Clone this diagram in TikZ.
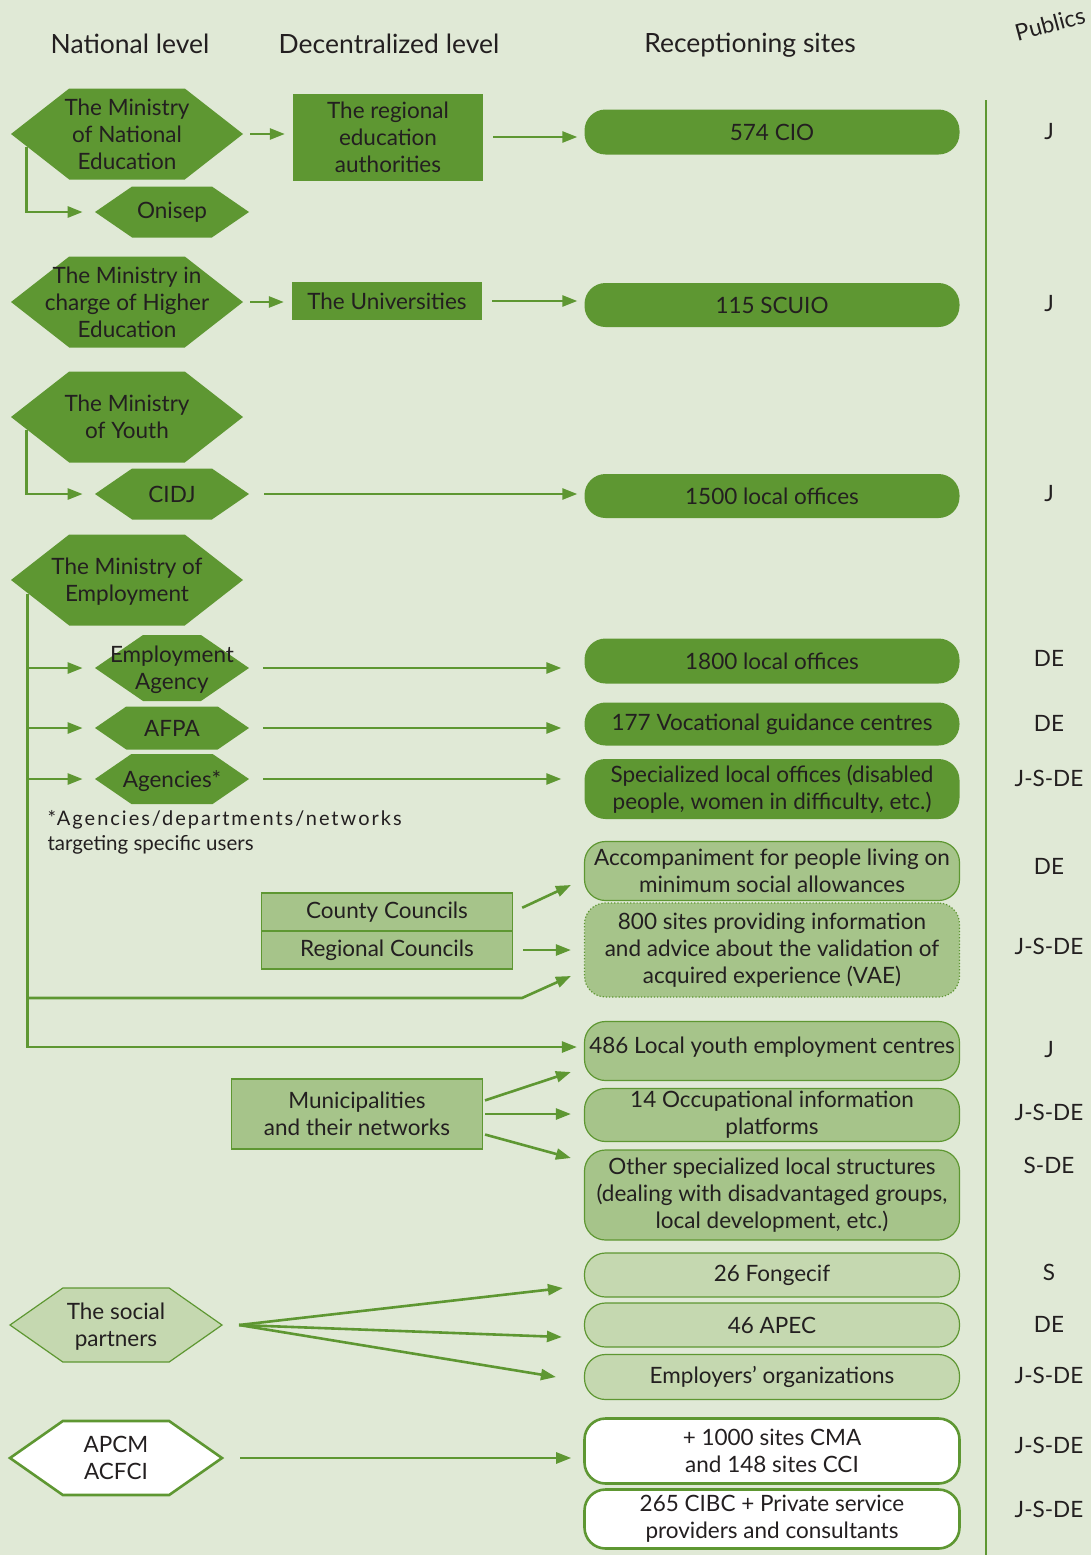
\documentclass[tikz,border=0pt]{standalone}
\usepackage{fontspec}
\setmainfont{Lato}
\usetikzlibrary{shapes.symbols,arrows.meta}
\definecolor{bggreen}{RGB}{224,233,214}
\definecolor{dkgreen}{RGB}{94,151,50}
\definecolor{mdgreen}{RGB}{166,196,138}
\definecolor{ltgreen}{RGB}{197,216,176}
\definecolor{inkgray}{RGB}{35,31,32}
% text that may run over the pointed ends of a hexagon
\newcommand{\hexlines}[1]{\raisebox{-3pt}[\height][\depth]{\makebox[40pt]{\begin{tabular}{@{}c@{}}#1\end{tabular}}}}
\begin{document}
\begin{tikzpicture}[x=1pt, y=-1pt,
        every node/.style={text=inkgray, font=\fontsize{22.5}{27}\selectfont, align=center},
        head/.style={font=\fontsize{26.5}{30}\selectfont},
        hexa/.style={signal, signal to=east and west, signal pointer angle=76, fill=dkgreen,
            inner sep=0pt, minimum width=232pt, minimum height=91pt},
        hexs/.style={hexa, signal pointer angle=69, minimum width=154pt, minimum height=51pt},
        site/.style={rounded corners=21pt, minimum width=375pt, minimum height=45pt, inner sep=1pt},
        darksite/.style={site, fill=dkgreen},
        midsite/.style={site, fill=mdgreen, draw=dkgreen, line width=1.2pt},
        litesite/.style={site, fill=ltgreen, draw=dkgreen, line width=1.2pt},
        whitesite/.style={site, fill=white, draw=dkgreen, line width=2.6pt},
        arr/.style={draw=dkgreen, line width=2.6pt, -{Triangle[length=15pt,width=11pt]}}]

        % Background and frame
        \fill[bggreen] (0,0) rectangle (1091,1555);
        \useasboundingbox (0,0) rectangle (1091,1555);
        \draw[dkgreen, line width=2.6pt] (986,100) -- (986,1555);

        % Column headings
        \node[head] (natl) at (130,44) {National level};
        \node[head] (decl) at (389,44) {Decentralized level};
        \node[head] (recl) at (750,45) {Receptioning sites};
        \node[head, font=\fontsize{23}{27}\selectfont, rotate=15] (publics) at (1050,24) {Publics};

        % National level
        \node[hexa] (minNE) at (127,134) {\hexlines{The Ministry\\of National\\Education}};
        \node[hexs] (onisep) at (172,212) {Onisep};
        \node[hexa] (minHE) at (127,302) {\hexlines{The Ministry in\\charge of Higher\\Education}};
        \node[hexa] (minY) at (127,417) {\hexlines{The Ministry\\of Youth}};
        \node[hexs] (cidj) at (172,494) {CIDJ};
        \node[hexa] (minEmp) at (127,580) {\hexlines{The Ministry of\\Employment}};
        \node[hexs, minimum height=66pt] (empag) at (172,668) {\hexlines{Employment\\Agency}};
        \node[hexs, minimum height=43pt] (afpa) at (172,728) {AFPA};
        \node[hexs, minimum height=50pt] (agencies) at (172,779) {\hexlines{Agencies*}};
        \node[hexa, signal pointer angle=70, fill=ltgreen, draw=dkgreen, line width=1.2pt,
            minimum width=212pt, minimum height=74pt] (social) at (116,1325) {\hexlines{The social\\partners}};
        \node[hexa, signal pointer angle=70, fill=white, draw=dkgreen, line width=2.6pt,
            minimum width=212pt, minimum height=74pt] (apcm) at (116,1458) {\hexlines{APCM\\ACFCI}};

        % Footnote
        \node[anchor=west, font=\fontsize{20}{24}\selectfont] (fnote1) at (44,820)
            {\addfontfeature{LetterSpace=10}*Agencies/departments/networks};
        \node[anchor=west, font=\fontsize{20.5}{24}\selectfont] (fnote2) at (44,845)
            {targeting specific users};

        % Decentralized level
        \node[fill=dkgreen, minimum width=190pt, minimum height=87pt, inner sep=0pt] (regedu) at (388,137)
            {The regional\\education\\authorities};
        \node[fill=dkgreen, minimum width=190pt, minimum height=38pt, inner sep=0pt] (univ) at (387,301)
            {The Universities};
        \node[fill=mdgreen, draw=dkgreen, line width=1.2pt, minimum width=251pt, minimum height=38pt,
            inner sep=0pt] (county) at (387,912) {County Councils};
        \node[fill=mdgreen, draw=dkgreen, line width=1.2pt, minimum width=251pt, minimum height=38pt,
            inner sep=0pt] (regional) at (387,950) {Regional Councils};
        \node[fill=mdgreen, draw=dkgreen, line width=1.2pt, minimum width=251pt, minimum height=70pt,
            inner sep=0pt] (muni) at (357,1114) {Municipalities\\and their networks};

        % Receptioning sites
        \node[darksite] (cio) at (772,132) {574 CIO};
        \node[darksite, minimum height=44pt] (scuio) at (772,305) {115 SCUIO};
        \node[darksite, minimum height=44pt] (off1500) at (772,496) {1500 local offices};
        \node[darksite] (off1800) at (772,661) {1800 local offices};
        \node[darksite, minimum height=43pt] (vgc) at (772,724) {177 Vocational guidance centres};
        \node[darksite, minimum height=60pt] (spec) at (772,789)
            {Specialized local offices (disabled\\people, women in difficulty, etc.)};
        \node[midsite, minimum height=59pt] (accomp) at (772,871)
            {Accompaniment for people living on\\minimum social allowances};
        \node[midsite, dotted, minimum height=94pt] (vae) at (772,950)
            {800 sites providing information\\and advice about the validation of\\acquired experience (VAE)};
        \node[midsite, minimum height=59pt, text depth=12pt] (youth) at (772,1051)
            {486 Local youth employment centres};
        \node[midsite, minimum height=53pt] (occ) at (772,1115) {14 Occupational information\\platforms};
        \node[midsite, minimum height=90pt] (other) at (772,1195)
            {Other specialized local structures\\(dealing with disadvantaged groups,\\local development, etc.)};
        \node[litesite, minimum height=44pt] (fong) at (772,1275) {26 Fongecif};
        \node[litesite, minimum height=44pt] (apec) at (772,1325) {46 APEC};
        \node[litesite] (empl) at (772,1377) {Employers' organizations};
        \node[whitesite, minimum height=65pt] (cma) at (772,1451) {+ 1000 sites CMA\\and 148 sites CCI};
        \node[whitesite, minimum height=59pt] (cibc) at (772,1519)
            {265 CIBC + Private service\\providers and consultants};

        % Publics column
        \foreach \yy/\pub [count=\i] in {132/J, 304/J, 494/J, 658/DE, 723/DE, 778/J-S-DE, 866/DE,
                946/J-S-DE, 1050/J, 1112/J-S-DE, 1165/S-DE, 1272/S, 1324/DE, 1375/J-S-DE,
                1445/J-S-DE, 1509/J-S-DE}
            \node (pub\i) at (1049,\yy) {\pub};

        % Education links
        \draw[arr, shorten <=7pt, shorten >=8pt] (minNE.east) -- (minNE.east -| regedu.west);
        \draw[arr, shorten <=10pt, shorten >=7pt] (regedu.east) -- (regedu.east -| cio.west);
        \draw[arr, shorten >=12pt] ([xshift=16pt,yshift=-13pt]minNE.west) |- (onisep.west);
        \draw[arr, shorten <=7pt, shorten >=8pt] (minHE.east) -- (minHE.east -| univ.west);
        \draw[arr, shorten <=10pt, shorten >=7pt] (univ.east) -- (univ.east -| scuio.west);

        % Youth links
        \draw[arr, shorten >=12pt] ([xshift=16pt,yshift=-13pt]minY.west) |- (cidj.west);
        \draw[arr, shorten <=15pt, shorten >=7pt] (cidj.east) -- (cidj.east -| off1500.west);

        % Employment links
        \coordinate (trunk) at ([xshift=17pt,yshift=-14pt]minEmp.west);
        \coordinate (vaebend) at (522,998);
        \draw[arr, shorten >=7pt] (trunk) |- ([yshift=4pt]youth.west);
        \draw[arr, shorten >=12pt] (trunk |- empag.west) -- (empag.west);
        \draw[arr, shorten >=12pt] (trunk |- afpa.west) -- (afpa.west);
        \draw[arr, shorten >=12pt] (trunk |- agencies.west) -- (agencies.west);
        \draw[arr] (trunk |- vaebend) -- (vaebend) -- ([xshift=-13pt,yshift=-26pt]vae.west);
        \draw[arr, shorten <=14pt, shorten >=23pt] (empag.east) -- (empag.east -| off1800.west);
        \draw[arr, shorten <=14pt, shorten >=23pt] (afpa.east) -- (afpa.east -| vgc.west);
        \draw[arr, shorten <=14pt, shorten >=23pt] (agencies.east) -- (agencies.east -| spec.west);

        % Councils and municipalities
        \draw[arr, shorten <=10pt] (county.east) -- ([xshift=-13pt,yshift=-14pt]accomp.west);
        \draw[arr, shorten <=10pt, shorten >=13pt] (regional.east) -- (regional.east -| vae.west);
        \draw[arr, shorten <=2pt] ([yshift=13pt]muni.east) -- ([xshift=-13pt,yshift=-21pt]youth.west);
        \draw[arr, shorten <=2pt, shorten >=13pt] (muni.east) -- (muni.east -| occ.west);
        \draw[arr, shorten <=2pt] ([yshift=-20pt]muni.east) -- ([xshift=-13pt,yshift=37pt]other.west);

        % Social partners and chambers
        \coordinate (fan) at ([xshift=16pt]social.east);
        \draw[arr] (fan) -- ([xshift=-21pt,yshift=-13pt]fong.west);
        \draw[arr] (fan) -- ([xshift=-22pt,yshift=-12pt]apec.west);
        \draw[arr] (fan) -- ([xshift=-28pt]empl.west);
        \draw[arr, shorten <=16pt, shorten >=12pt] (apcm.east) -- (apcm.east -| cma.west);
    \end{tikzpicture}
\end{document}
